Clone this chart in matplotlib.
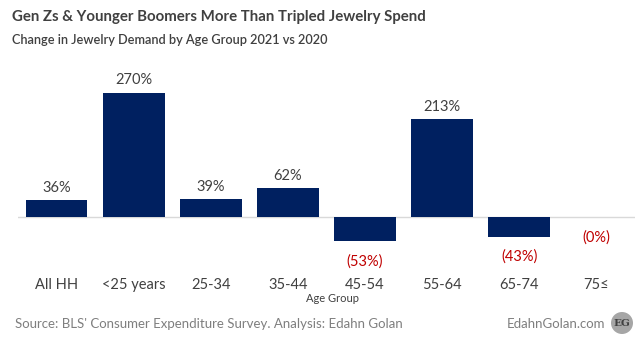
import matplotlib.pyplot as plt
from matplotlib.patches import Ellipse
from matplotlib.transforms import blended_transform_factory

# ---------- Data ----------
categories = ["All HH", "<25 years", "25-34", "35-44", "45-54", "55-64", "65-74", "75≤"]
change_pct = [36, 270, 39, 62, -53, 213, -43, -0.3]
value_labels = ["36%", "270%", "39%", "62%", "(53%)", "213%", "(43%)", "(0%)"]

plt.rcParams["font.family"] = ["Lato", "DejaVu Sans"]

NAVY = "#002060"
DARK = "#404040"
RED = "#c00000"
GREY = "#7f7f7f"

fig = plt.figure(figsize=(6.43, 3.43), dpi=100)
ax = fig.add_axes([18 / 643, 1 - 265 / 343, 617 / 643, 195 / 343])

x = list(range(len(categories)))
ax.bar(x, change_pct, width=0.8, color=NAVY, zorder=2)
ax.axhline(0, color="#d9d9d9", linewidth=1, zorder=1)
ax.set_xlim(-0.5, len(categories) - 0.5)
ax.set_ylim(-104.6, 320)
ax.axis("off")

for xi, v, lab in zip(x, change_pct, value_labels):
    if v >= 0:
        ax.text(xi, v + 12, lab, ha="center", va="bottom", fontsize=10.5, color=DARK)
    else:
        ax.text(xi, v - 28, lab, ha="center", va="top", fontsize=10.5, color=RED)

# category labels under the plot
tr = blended_transform_factory(ax.transData, fig.transFigure)
for xi, c in zip(x, categories):
    ax.text(xi, 1 - 285 / 343, c, transform=tr, ha="center", va="center",
            fontsize=10.5, color=DARK)

fig.text(333 / 643, 1 - 298 / 343, "Age Group", ha="center", va="center",
         fontsize=8, color=DARK)

# ---------- Titles ----------
fig.text(12 / 643, 1 - 17 / 343, "Gen Zs & Younger Boomers More Than Tripled Jewelry Spend",
         ha="left", va="center", fontsize=10.8, fontweight="bold", color=DARK)
fig.text(12 / 643, 1 - 40 / 343, "Change in Jewelry Demand by Age Group 2021 vs 2020",
         ha="left", va="center", fontsize=9.2, fontweight="semibold", color=DARK)

# ---------- Footer ----------
fig.text(15 / 643, 1 - 324 / 343, "Source: BLS' Consumer Expenditure Survey. Analysis: Edahn Golan",
         ha="left", va="center", fontsize=9.5, color=GREY)
fig.text(605 / 643, 1 - 324 / 343, "EdahnGolan.com", ha="right", va="center",
         fontsize=9.5, color=GREY)
logo = Ellipse((622 / 643, 1 - 323 / 343), 22 / 643, 22 / 343,
               transform=fig.transFigure, facecolor="#a6a6a6", edgecolor="none")
fig.add_artist(logo)
fig.text(622 / 643, 1 - 323 / 343, "EG", ha="center", va="center",
         fontsize=7.5, fontweight="bold", color="#404040", family="DejaVu Serif")

fig.savefig("out.png", dpi=100)
